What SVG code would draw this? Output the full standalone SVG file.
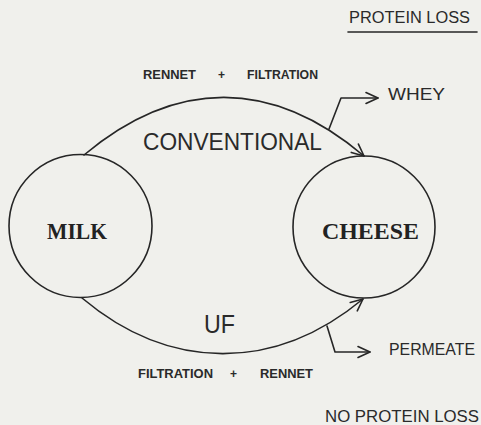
<svg xmlns="http://www.w3.org/2000/svg" width="481" height="425" viewBox="0 0 481 425">
<style>
.bg{fill:#f0f0ec}
.ln{fill:none;stroke:#262626;stroke-width:1.6;stroke-linecap:round;stroke-linejoin:round}
.sans{font-family:"Liberation Sans",Arial,sans-serif;fill:#2a2a2a}
.small{font-size:12px;font-weight:bold}
.mid{font-size:16px}
.big{font-size:23px}
.node{font-family:"Liberation Serif","Times New Roman",serif;font-weight:bold;font-size:23px;fill:#222}
</style>
<defs>
<marker id="arr" viewBox="-14 -7 16 14" markerWidth="16" markerHeight="14" refX="0" refY="0" orient="auto" markerUnits="userSpaceOnUse">
<path d="M-12,-5.5 L0,0 L-12,5.5" fill="none" stroke="#262626" stroke-width="1.6" stroke-linecap="round" stroke-linejoin="round"/>
</marker>
</defs>
<rect class="bg" x="0" y="0" width="481" height="425"/>
<g id="connectors">
<path id="conventional" class="ln" d="M84,155 C176,78 272,78 364,156" marker-end="url(#arr)"/>
<path id="uf" class="ln" d="M82,298 C170,372 275,372 363,299" marker-end="url(#arr)"/>
<path id="whey-branch" class="ln" d="M329,129 L341,98 L378,98" marker-end="url(#arr)"/>
<path id="permeate-branch" class="ln" d="M327,326 L335,352 L370,352" marker-end="url(#arr)"/>
</g>
<g id="milk">
<circle class="ln" cx="80.5" cy="226" r="71.5"/>
<text class="node" x="47" y="239" textLength="60" lengthAdjust="spacingAndGlyphs">MILK</text>
</g>
<g id="cheese">
<circle class="ln" cx="364" cy="227" r="71"/>
<text class="node" x="322" y="239" textLength="97" lengthAdjust="spacingAndGlyphs">CHEESE</text>
</g>
<g id="labels">
<text class="sans mid" x="349" y="23" textLength="121" lengthAdjust="spacingAndGlyphs">PROTEIN LOSS</text>
<line class="ln" x1="348" y1="32" x2="477" y2="32"/>
<text class="sans small"><tspan x="143" y="79" textLength="53" lengthAdjust="spacingAndGlyphs">RENNET</tspan><tspan x="218" y="79">+</tspan><tspan x="247" y="79" textLength="71" lengthAdjust="spacingAndGlyphs">FILTRATION</tspan></text>
<text class="sans mid" x="388" y="100" textLength="57" lengthAdjust="spacingAndGlyphs">WHEY</text>
<text class="sans big" x="143" y="150" textLength="179" lengthAdjust="spacingAndGlyphs">CONVENTIONAL</text>
<text class="sans" font-size="25" x="204" y="333" textLength="31" lengthAdjust="spacingAndGlyphs">UF</text>
<text class="sans mid" x="389" y="355" textLength="86" lengthAdjust="spacingAndGlyphs">PERMEATE</text>
<text class="sans small"><tspan x="138" y="378" textLength="75" lengthAdjust="spacingAndGlyphs">FILTRATION</tspan><tspan x="230" y="378">+</tspan><tspan x="260" y="378" textLength="53" lengthAdjust="spacingAndGlyphs">RENNET</tspan></text>
<text class="sans mid" x="325" y="422" textLength="154" lengthAdjust="spacingAndGlyphs">NO PROTEIN LOSS</text>
</g>
</svg>
